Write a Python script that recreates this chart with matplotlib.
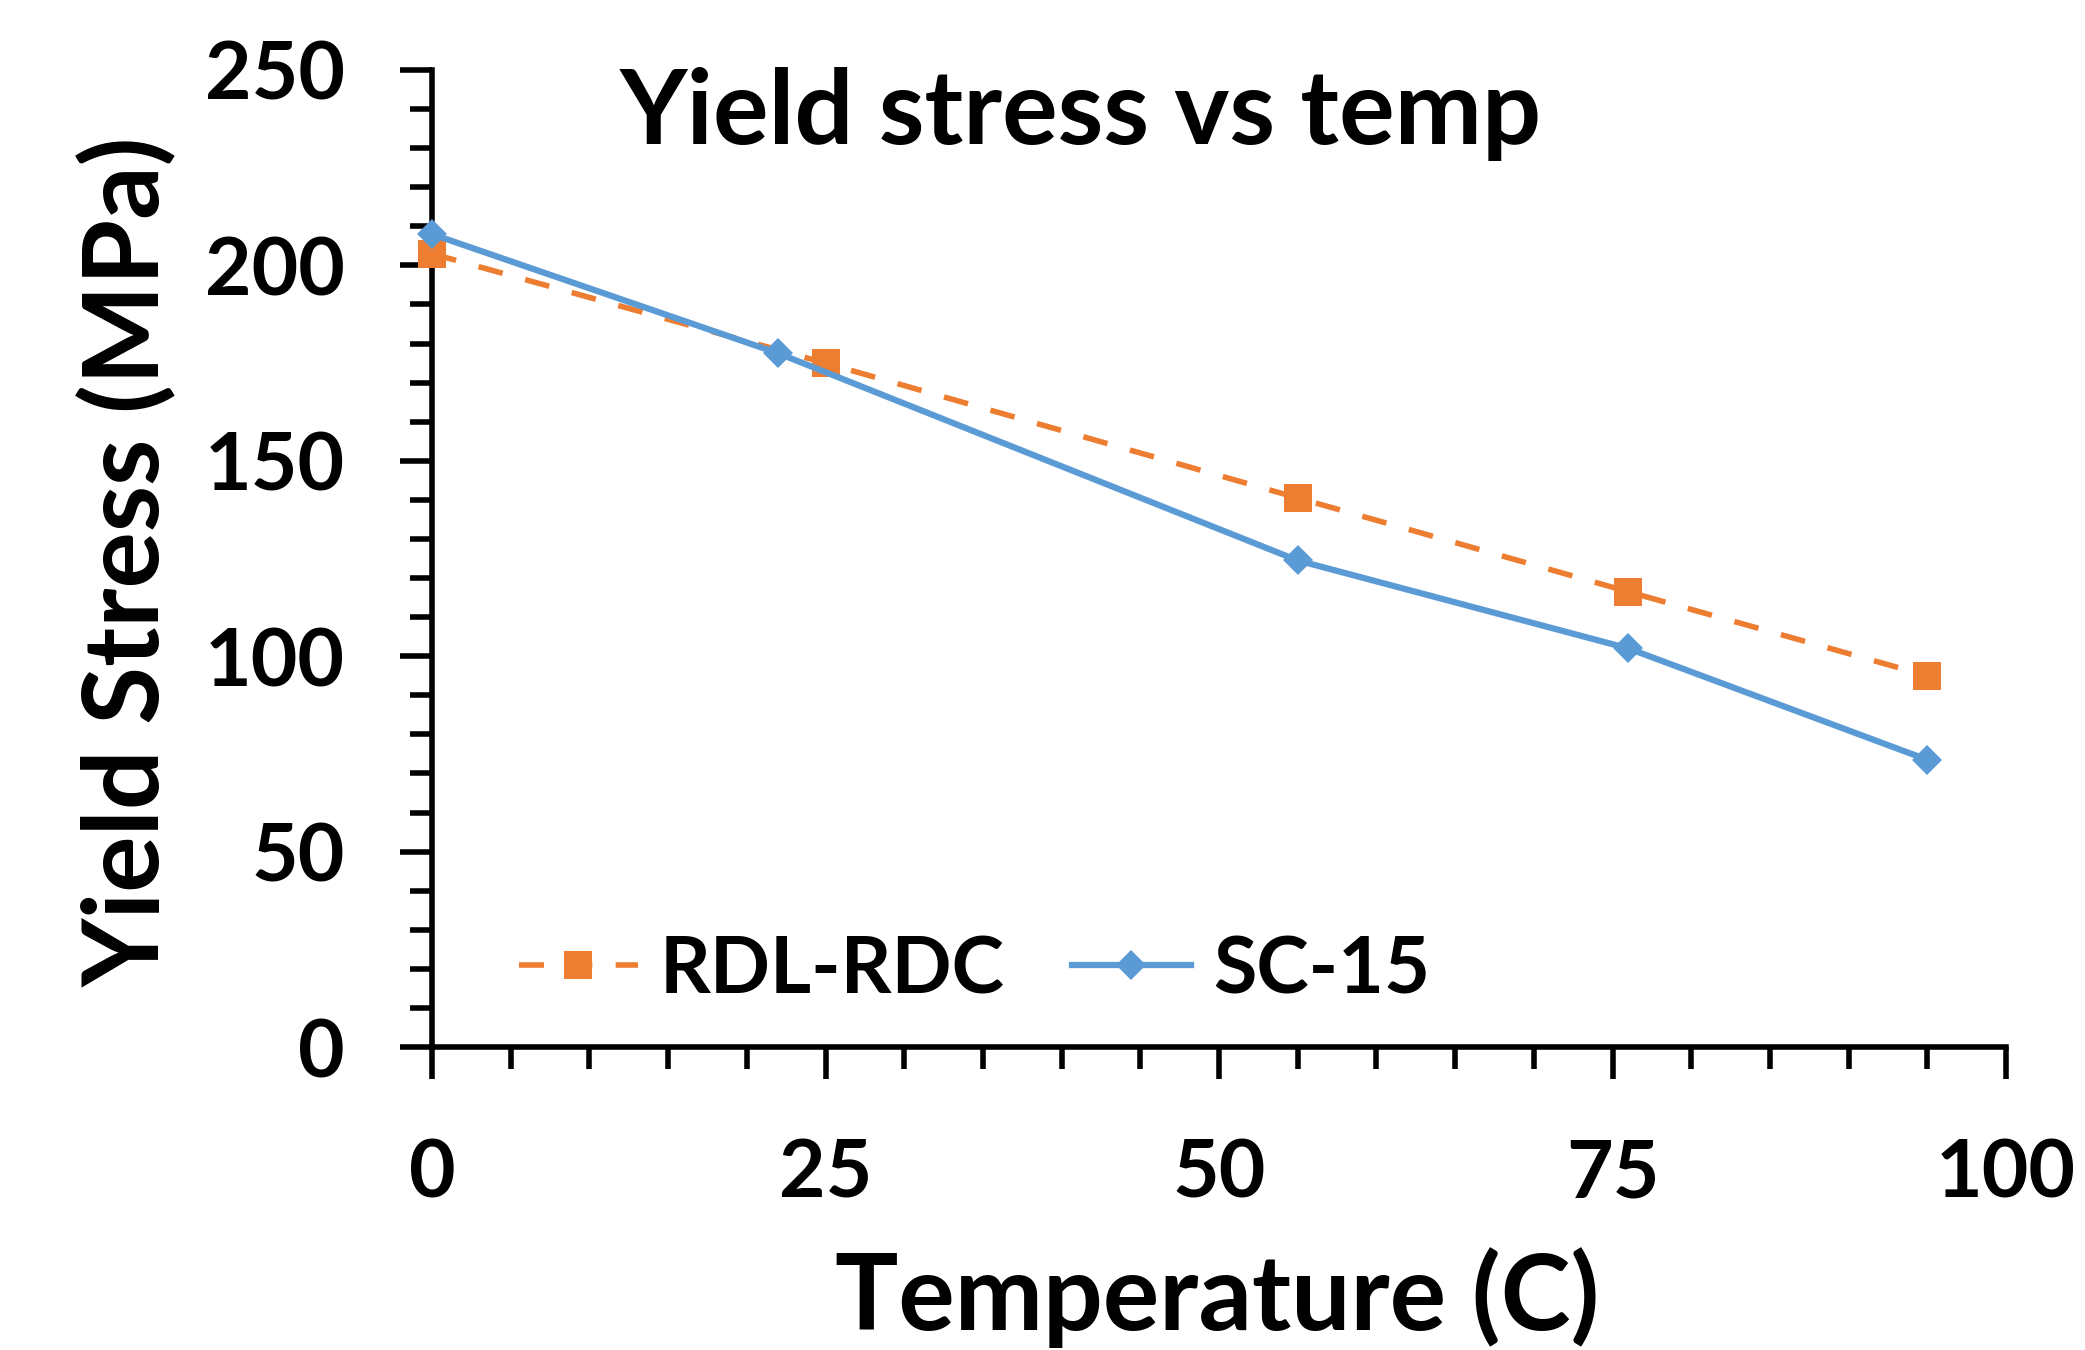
import matplotlib
matplotlib.use("Agg")
import matplotlib.pyplot as plt
from matplotlib.ticker import MultipleLocator

plt.rcParams['font.family'] = ['Lato', 'DejaVu Sans']
plt.rcParams['font.weight'] = 'bold'

# Data
rdl_temp = [0, 25, 55, 76, 95]
rdl_stress = [203, 175, 140.5, 116.5, 95]
sc_temp = [0, 22, 55, 76, 95]
sc_stress = [208, 177.5, 124.5, 102, 73.5]

title = "Yield stress vs temp"
xlabel = "Temperature (C)"
ylabel = "Yield Stress (MPa)"
series_names = ["RDL-RDC", "SC-15"]

W, H = 2085, 1350
fig = plt.figure(figsize=(W / 100, H / 100), dpi=100)
ax = fig.add_axes([432 / W, 1 - 1047 / H, (2006 - 432) / W, (1047 - 70) / H])

orange = "#ED7D31"
blue = "#5B9BD5"

ax.plot(rdl_temp, rdl_stress, color=orange, lw=4.0, dashes=(4.5, 4.2),
        marker='s', ms=20, mew=0, clip_on=False, label=series_names[0], zorder=3)
ax.plot(sc_temp, sc_stress, color=blue, lw=4.5,
        marker='D', ms=15, mew=0, clip_on=False, label=series_names[1], zorder=4)

ax.set_xlim(0, 100)
ax.set_ylim(0, 250)
ax.xaxis.set_major_locator(MultipleLocator(25))
ax.xaxis.set_minor_locator(MultipleLocator(5))
ax.yaxis.set_major_locator(MultipleLocator(50))
ax.yaxis.set_minor_locator(MultipleLocator(10))

for s in ['top', 'right']:
    ax.spines[s].set_visible(False)
for s in ['left', 'bottom']:
    ax.spines[s].set_linewidth(4)
    ax.spines[s].set_capstyle('projecting')

ax.tick_params(axis='both', which='major', direction='out', length=23, width=4,
               labelsize=58)
ax.tick_params(axis='both', which='minor', direction='out', length=16, width=4)
ax.tick_params(axis='y', which='major', pad=40)
ax.tick_params(axis='x', which='major', pad=42)
for lbl in ax.get_xticklabels() + ax.get_yticklabels():
    lbl.set_fontweight('bold')

fig.text(1081 / W, 1 - 144 / H, title, fontsize=75, fontweight='bold',
         ha='center', va='baseline')
fig.text(1217 / W, 1 - 1330 / H, xlabel, fontsize=76, fontweight='bold',
         ha='center', va='baseline')
fig.text(128 / W, 1 - 562 / H, ylabel, fontsize=76, fontweight='bold',
         ha='center', va='center', rotation=90)

leg = ax.legend(loc='center left', bbox_to_anchor=(519 / W, 1 - 971 / H),
                bbox_transform=fig.transFigure, ncol=2, frameon=False,
                fontsize=57, handlelength=1.5, handletextpad=0.28,
                columnspacing=0.85, borderpad=0, borderaxespad=0)
for t in leg.get_texts():
    t.set_fontweight('bold')

fig.savefig("out.png", dpi=100)
